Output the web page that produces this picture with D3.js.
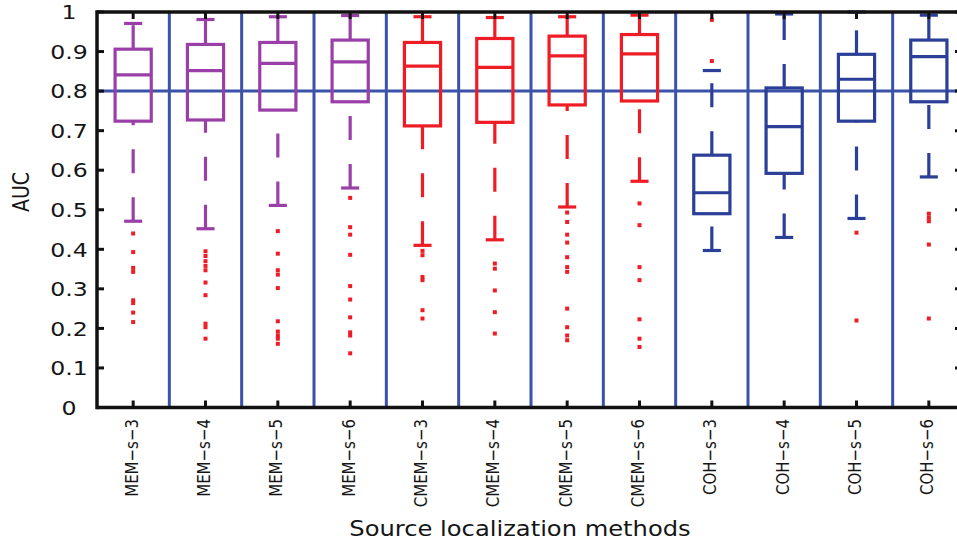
<!DOCTYPE html>
<html>
<head>
<meta charset="utf-8">
<script src="https://cdn.jsdelivr.net/npm/d3@7"></script>
<style>
  html, body { margin: 0; padding: 0; background: #fff; }
  svg { display: block; }
  text { font-family: "DejaVu Sans", "Liberation Sans", sans-serif; fill: #151515; }
</style>
</head>
<body>
<svg id="chart" width="957" height="542"></svg>
<script>
// Methods compared on the x axis
const methods = ["MEM−s−3", "MEM−s−4", "MEM−s−5", "MEM−s−6",
                 "CMEM−s−3", "CMEM−s−4", "CMEM−s−5", "CMEM−s−6",
                 "COH−s−3", "COH−s−4", "COH−s−5", "COH−s−6"];

// Box statistics of AUC per method
const upperWhisker = [0.971, 0.981, 0.988, 0.991, 0.988, 0.986, 0.988, 0.992, 0.852, 0.995, 1.000, 0.992];
const q3           = [0.906, 0.918, 0.923, 0.929, 0.923, 0.933, 0.939, 0.943, 0.638, 0.808, 0.893, 0.929];
const medians      = [0.841, 0.852, 0.870, 0.874, 0.863, 0.860, 0.889, 0.894, 0.543, 0.710, 0.830, 0.887];
const q1           = [0.724, 0.727, 0.752, 0.773, 0.712, 0.721, 0.765, 0.775, 0.490, 0.592, 0.724, 0.773];
const lowerWhisker = [0.471, 0.452, 0.511, 0.555, 0.410, 0.424, 0.507, 0.572, 0.397, 0.430, 0.478, 0.583];

// Outlying AUC values per method
const outliers = [
  [0.440, 0.393, 0.353, 0.343, 0.271, 0.264, 0.240, 0.216],
  [0.395, 0.383, 0.370, 0.358, 0.347, 0.316, 0.284, 0.212, 0.203, 0.174],
  [0.446, 0.389, 0.347, 0.336, 0.302, 0.218, 0.192, 0.182, 0.174, 0.161],
  [0.530, 0.456, 0.437, 0.386, 0.307, 0.273, 0.228, 0.190, 0.182, 0.137],
  [0.396, 0.385, 0.330, 0.322, 0.246, 0.225],
  [0.364, 0.351, 0.296, 0.241, 0.187],
  [0.493, 0.469, 0.437, 0.417, 0.380, 0.355, 0.343, 0.250, 0.203, 0.182, 0.170],
  [0.516, 0.461, 0.355, 0.322, 0.223, 0.174, 0.153],
  [0.980, 0.876],
  [],
  [0.442, 0.220],
  [0.490, 0.480, 0.471, 0.412, 0.225]
];

// Y tick values and the reference level
const yTicks = [0, 0.1, 0.2, 0.3, 0.4, 0.5, 0.6, 0.7, 0.8, 0.9, 1];
const yTickLabels = ["0", "0.1", "0.2", "0.3", "0.4", "0.5", "0.6", "0.7", "0.8", "0.9", "1"];
const referenceLevel = 0.8;

const familyColor = { MEM: "#9b3fa8", CMEM: "#ee1c25", COH: "#2b3f98" };
const outlierColor = "#ee1c25";
const gridBlue = "#3a52a8";

const svg = d3.select("#chart");
const plotLeft = 97, plotRight = 965, plotTop = 12, plotBottom = 407.5;

const x = d3.scaleLinear().domain([0.5, methods.length + 0.5]).range([plotLeft, plotRight]);
const y = d3.scaleLinear().domain([0, 1]).range([plotBottom, plotTop]);
const step = x(2) - x(1);
const sx = 1.18; // horizontal glyph stretch

const data = methods.map((m, i) => ({
  name: m, pos: i + 1,
  family: m.split("−")[0],
  hi: upperWhisker[i], q3: q3[i], med: medians[i], q1: q1[i], lo: lowerWhisker[i],
  out: outliers[i]
}));

// Separators between methods
const sepPositions = d3.range(1.5, methods.length, 1);
svg.append("g").selectAll("line").data(sepPositions).join("line")
  .attr("x1", d => x(d)).attr("x2", d => x(d))
  .attr("y1", plotTop).attr("y2", plotBottom)
  .attr("stroke", gridBlue).attr("stroke-width", 3);

// Reference line
svg.append("line")
  .attr("x1", plotLeft).attr("x2", plotRight)
  .attr("y1", y(referenceLevel)).attr("y2", y(referenceLevel))
  .attr("stroke", gridBlue).attr("stroke-width", 3);

// Boxes
const boxes = svg.append("g").selectAll("g").data(data).join("g")
  .attr("stroke", d => familyColor[d.family])
  .attr("fill", "none")
  .attr("stroke-width", 3.2);

// whiskers (dashed, drawn upward)
boxes.append("line")
  .attr("x1", d => x(d.pos)).attr("x2", d => x(d.pos))
  .attr("y1", d => y(d.q3)).attr("y2", d => y(d.hi))
  .attr("stroke-dasharray", "24 24");
boxes.append("line")
  .attr("x1", d => x(d.pos)).attr("x2", d => x(d.pos))
  .attr("y1", d => y(d.lo)).attr("y2", d => y(d.q1))
  .attr("stroke-dasharray", "24 24");
// caps
boxes.append("line")
  .attr("x1", d => x(d.pos - 0.125)).attr("x2", d => x(d.pos + 0.125))
  .attr("y1", d => y(d.hi)).attr("y2", d => y(d.hi));
boxes.append("line")
  .attr("x1", d => x(d.pos - 0.125)).attr("x2", d => x(d.pos + 0.125))
  .attr("y1", d => y(d.lo)).attr("y2", d => y(d.lo));
// box
boxes.append("rect")
  .attr("x", d => x(d.pos - 0.25)).attr("width", step * 0.5)
  .attr("y", d => y(d.q3)).attr("height", d => y(d.q1) - y(d.q3));
// median
boxes.append("line")
  .attr("x1", d => x(d.pos - 0.25)).attr("x2", d => x(d.pos + 0.25))
  .attr("y1", d => y(d.med)).attr("y2", d => y(d.med));

// Outliers
const outPts = data.flatMap(d => d.out.map(v => ({ pos: d.pos, v })));
svg.append("g").selectAll("rect").data(outPts).join("rect")
  .attr("x", d => x(d.pos) - 2).attr("y", d => y(d.v) - 2)
  .attr("width", 4).attr("height", 4)
  .attr("fill", outlierColor);

// Frame
const frame = svg.append("g").attr("stroke", "#111").attr("stroke-width", 3.5);
frame.append("line").attr("x1", plotLeft).attr("x2", plotLeft).attr("y1", plotTop - 1.75).attr("y2", plotBottom + 1.75);
frame.append("line").attr("x1", plotRight).attr("x2", plotRight).attr("y1", plotTop - 1.75).attr("y2", plotBottom + 1.75);
frame.append("line").attr("x1", plotLeft).attr("x2", plotRight).attr("y1", plotTop).attr("y2", plotTop);
frame.append("line").attr("x1", plotLeft).attr("x2", plotRight).attr("y1", plotBottom).attr("y2", plotBottom);

// Ticks (inward)
const tickLen = 7;
const ticks = svg.append("g").attr("stroke", "#111").attr("stroke-width", 3);
ticks.selectAll(".yl").data(yTicks).join("line").attr("class", "yl")
  .attr("x1", plotLeft).attr("x2", plotLeft + tickLen).attr("y1", d => y(d)).attr("y2", d => y(d));
ticks.selectAll(".yr").data(yTicks).join("line").attr("class", "yr")
  .attr("x1", plotRight).attr("x2", plotRight - tickLen - 3).attr("y1", d => y(d)).attr("y2", d => y(d));
ticks.selectAll(".xb").data(data).join("line").attr("class", "xb")
  .attr("x1", d => x(d.pos)).attr("x2", d => x(d.pos)).attr("y1", plotBottom).attr("y2", plotBottom - tickLen);
ticks.selectAll(".xt").data(data).join("line").attr("class", "xt")
  .attr("x1", d => x(d.pos)).attr("x2", d => x(d.pos)).attr("y1", plotTop).attr("y2", plotTop + tickLen);

// Y tick labels
svg.append("g").selectAll("text").data(yTicks).join("text")
  .attr("transform", d => `translate(69,${y(d)}) scale(${sx},1)`)
  .attr("text-anchor", "middle").attr("dy", "0.36em")
  .style("font-size", "20px")
  .text((d, i) => yTickLabels[i]);

// X tick labels (rotated)
svg.append("g").selectAll("text").data(data).join("text")
  .attr("transform", d => `translate(${x(d.pos) - 2},419) scale(${sx},1) rotate(-90)`)
  .attr("text-anchor", "end").attr("dy", "0.36em")
  .style("font-size", "15px")
  .text(d => d.name);

// Axis titles
svg.append("text")
  .attr("transform", `translate(21,192) scale(${sx},1) rotate(-90)`)
  .attr("text-anchor", "middle").attr("dy", "0.36em")
  .style("font-size", "19px")
  .text("AUC");

svg.append("text")
  .attr("transform", `translate(520,536) scale(1.1,1)`)
  .attr("text-anchor", "middle")
  .style("font-size", "22px")
  .text("Source localization methods");
</script>
</body>
</html>
